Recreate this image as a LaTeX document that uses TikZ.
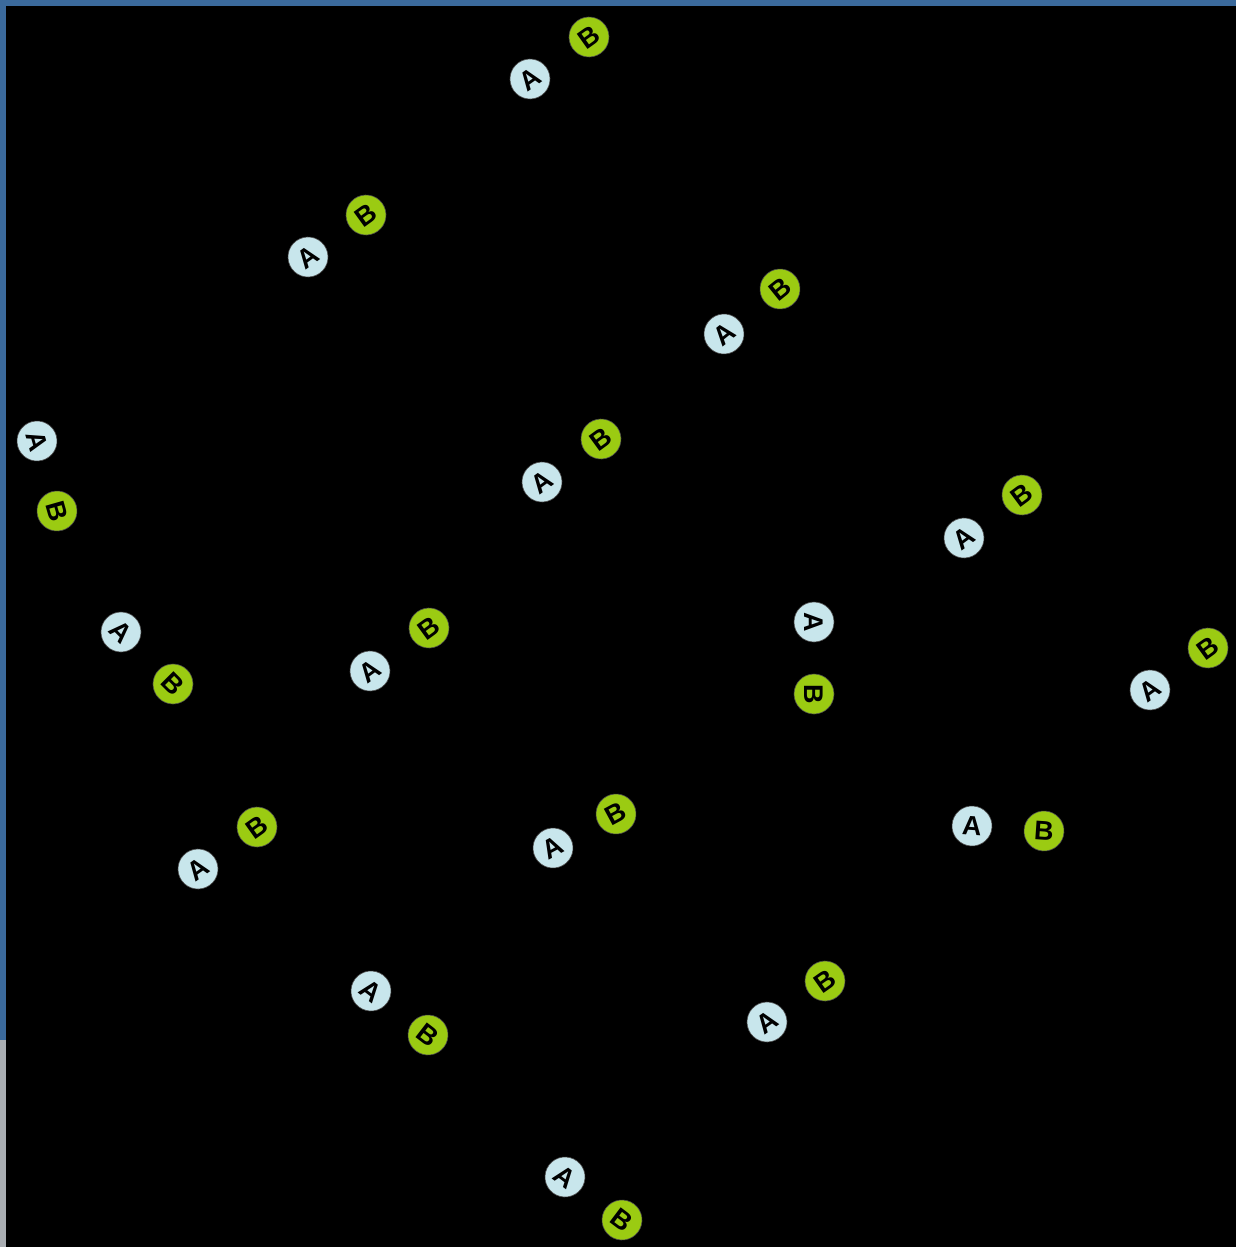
\documentclass[tikz,border=0pt]{standalone}
\usepackage{fontspec}
\setmainfont{Liberation Sans}
\definecolor{abg}{HTML}{C8E6EC}
\definecolor{bbg}{HTML}{9BCB12}
\definecolor{framecol}{HTML}{3B6A9C}
\definecolor{graycol}{HTML}{A9ADB2}
\tikzset{
  ball/.style={circle, draw=black!70, line width=0.6pt, minimum size=40pt, inner sep=0pt,
    font=\bfseries\fontsize{27}{27}\selectfont, text=black},
  anode/.style={ball, fill=abg},
  bnode/.style={ball, fill=bbg}
}
\newcommand\abpair[5]{%
  \pgfmathsetmacro\abang{atan2(#3-#5,#4-#2)}%
  \node[anode, rotate=\abang] (a#1) at (#2,#3) {A};
  \node[bnode, rotate=\abang] (b#1) at (#4,#5) {B};
}
\begin{document}
\begin{tikzpicture}[x=1pt,y=-1pt]
\useasboundingbox (0,0) rectangle (1236,1247);
\fill[framecol] (0,0) rectangle (1236,1247);
\fill[graycol] (0,1040) rectangle (6,1247);
\fill[black] (6,6) rectangle (1236,1247);
\abpair{1}{530}{79}{589}{37}
\abpair{2}{308}{257}{366}{215}
\abpair{3}{724}{334}{780}{289}
\abpair{4}{37}{441}{57}{511}
\abpair{5}{542}{482}{601}{439}
\abpair{6}{964}{538}{1022}{495}
\abpair{7}{121}{632}{173}{684}
\abpair{8}{370}{671}{429}{628}
\abpair{9}{814}{622}{814}{694}
\abpair{10}{1150}{690}{1208}{648}
\abpair{11}{972}{826}{1044}{831}
\abpair{12}{198}{869}{257}{827}
\abpair{13}{553}{848}{616}{814}
\abpair{14}{371}{991}{428}{1035}
\abpair{15}{767}{1022}{825}{981}
\abpair{16}{565}{1177}{622}{1220}
\end{tikzpicture}
\end{document}
